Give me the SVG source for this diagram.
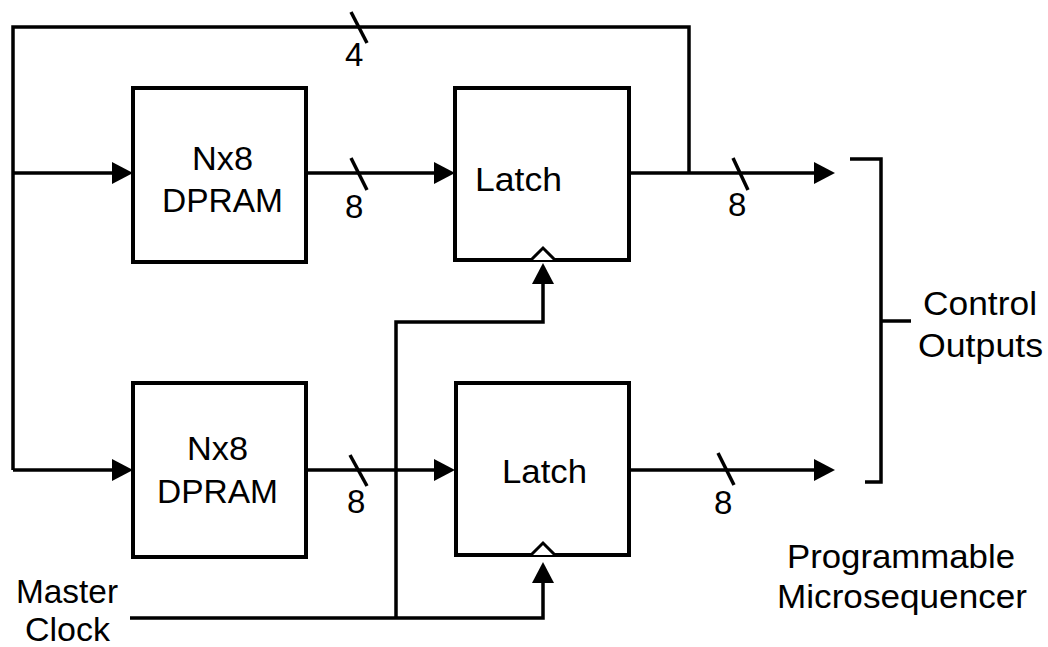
<svg xmlns="http://www.w3.org/2000/svg" width="1048" height="647" viewBox="0 0 1048 647">
  <style>
    .box { fill: #ffffff; stroke: #000000; stroke-width: 4; }
    .wire { fill: none; stroke: #000000; stroke-width: 3.5; stroke-linejoin: miter; }
    .arr { marker-end: url(#ah); }
    .slash { stroke: #000000; stroke-width: 3.5; }
    .clk { fill: #ffffff; stroke: #000000; stroke-width: 3; stroke-linejoin: miter; }
    text { font-family: "Liberation Sans", Arial, sans-serif; font-size: 33px; fill: #000000; }
  </style>
  <defs>
    <marker id="ah" viewBox="0 0 21 22" refX="13" refY="11" markerWidth="21" markerHeight="22" markerUnits="userSpaceOnUse" orient="auto">
      <path d="M0,0 L21,11 L0,22 Z" fill="#000000"/>
    </marker>
  </defs>
  <rect width="1048" height="647" fill="#ffffff"/>

  <g id="connectors">
    <path class="wire" d="M689,173 L689,27 L13,27 L13,470"/>
    <path class="wire arr" d="M13,173 L125,173"/>
    <path class="wire arr" d="M13,470 L125,470"/>
    <path class="wire arr" d="M306,173 L447,173"/>
    <path class="wire arr" d="M306,470 L447,470"/>
    <path class="wire arr" d="M629,173 L827,173"/>
    <path class="wire arr" d="M629,470 L827,470"/>
    <path class="wire arr" d="M130,618 L543,618 L543,570"/>
    <path class="wire arr" d="M396,618 L396,322 L543,322 L543,271"/>
    <line class="slash" x1="351" y1="12" x2="367" y2="43"/>
    <line class="slash" x1="351" y1="158" x2="367" y2="190"/>
    <line class="slash" x1="350" y1="455" x2="367" y2="486"/>
    <line class="slash" x1="733" y1="158" x2="748" y2="190"/>
    <line class="slash" x1="718" y1="453" x2="734" y2="485"/>
    <text x="345" y="66">4</text>
    <text x="345" y="218">8</text>
    <text x="347" y="513">8</text>
    <text x="728" y="216">8</text>
    <text x="714" y="514">8</text>
  </g>

  <g id="dpram-top">
    <rect class="box" x="133" y="88" width="173" height="174"/>
    <text x="192" y="170" textLength="61" lengthAdjust="spacingAndGlyphs">Nx8</text>
    <text x="162" y="212" textLength="121" lengthAdjust="spacingAndGlyphs">DPRAM</text>
  </g>

  <g id="dpram-bottom">
    <rect class="box" x="133" y="383" width="173" height="174"/>
    <text x="187" y="460" textLength="61" lengthAdjust="spacingAndGlyphs">Nx8</text>
    <text x="157" y="503" textLength="121" lengthAdjust="spacingAndGlyphs">DPRAM</text>
  </g>

  <g id="latch-top">
    <rect class="box" x="455" y="88" width="174" height="172"/>
    <polyline class="clk" points="531,260 543,248 555,260"/>
    <text x="475" y="191" textLength="87" lengthAdjust="spacingAndGlyphs">Latch</text>
  </g>

  <g id="latch-bottom">
    <rect class="box" x="456" y="383" width="173" height="172"/>
    <polyline class="clk" points="531,555 543,543 555,555"/>
    <text x="502" y="483" textLength="85" lengthAdjust="spacingAndGlyphs">Latch</text>
  </g>

  <g id="control-outputs">
    <path class="wire" d="M850,159 L881,159 L881,482 L865,482"/>
    <line class="wire" x1="881" y1="321" x2="911" y2="321"/>
    <text x="923" y="315" textLength="114" lengthAdjust="spacingAndGlyphs">Control</text>
    <text x="918" y="357" textLength="125" lengthAdjust="spacingAndGlyphs">Outputs</text>
  </g>

  <g id="master-clock">
    <text x="16" y="603" textLength="102" lengthAdjust="spacingAndGlyphs">Master</text>
    <text x="25" y="641" textLength="85" lengthAdjust="spacingAndGlyphs">Clock</text>
  </g>

  <g id="title">
    <text x="787" y="568" textLength="228" lengthAdjust="spacingAndGlyphs">Programmable</text>
    <text x="777" y="608" textLength="250" lengthAdjust="spacingAndGlyphs">Microsequencer</text>
  </g>
</svg>
